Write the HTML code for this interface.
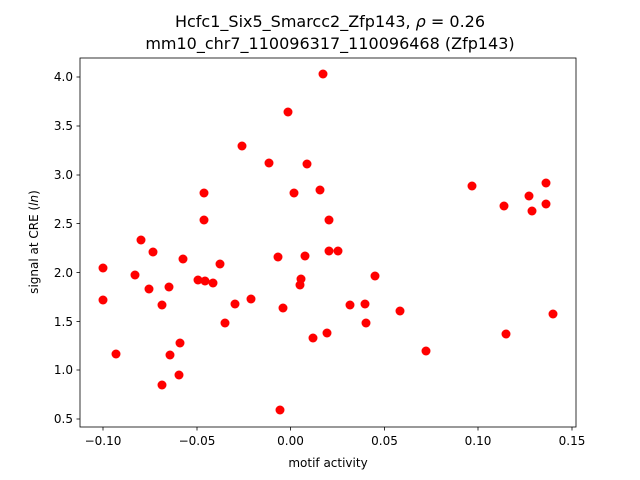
<!DOCTYPE html>
<html><head><style>body{margin:0;background:#fff}svg{display:block;font-family:"DejaVu Sans","Liberation Sans",sans-serif}</style></head>
<body>
<svg width="640" height="480" viewBox="0 0 640 480" xmlns="http://www.w3.org/2000/svg">
<rect width="640" height="480" fill="#fff"/>
<text x="330" y="27" font-size="16" text-anchor="middle">Hcfc1_Six5_Smarcc2_Zfp143, <tspan font-style="italic">ρ</tspan> = 0.26</text>
<text x="330" y="49" font-size="16" text-anchor="middle">mm10_chr7_110096317_110096468 (Zfp143)</text>
<g fill="#f00">
<circle cx="103" cy="268" r="4.5"/><circle cx="103" cy="300" r="4.5"/><circle cx="116" cy="354" r="4.5"/><circle cx="135" cy="275" r="4.5"/><circle cx="141" cy="240" r="4.5"/><circle cx="149" cy="289" r="4.5"/><circle cx="153" cy="252" r="4.5"/><circle cx="162" cy="305" r="4.5"/><circle cx="162" cy="385" r="4.5"/><circle cx="169" cy="287" r="4.5"/><circle cx="170" cy="355" r="4.5"/><circle cx="179" cy="375" r="4.5"/><circle cx="180" cy="343" r="4.5"/><circle cx="183" cy="259" r="4.5"/><circle cx="198" cy="280" r="4.5"/><circle cx="205" cy="281" r="4.5"/><circle cx="204" cy="193" r="4.5"/><circle cx="204" cy="220" r="4.5"/><circle cx="213" cy="283" r="4.5"/><circle cx="220" cy="264" r="4.5"/><circle cx="225" cy="323" r="4.5"/><circle cx="235" cy="304" r="4.5"/><circle cx="242" cy="146" r="4.5"/><circle cx="251" cy="299" r="4.5"/><circle cx="269" cy="163" r="4.5"/><circle cx="278" cy="257" r="4.5"/><circle cx="283" cy="308" r="4.5"/><circle cx="280" cy="410" r="4.5"/><circle cx="288" cy="112" r="4.5"/><circle cx="294" cy="193" r="4.5"/><circle cx="300" cy="285" r="4.5"/><circle cx="301" cy="279" r="4.5"/><circle cx="305" cy="256" r="4.5"/><circle cx="307" cy="164" r="4.5"/><circle cx="313" cy="338" r="4.5"/><circle cx="320" cy="190" r="4.5"/><circle cx="323" cy="74" r="4.5"/><circle cx="327" cy="333" r="4.5"/><circle cx="329" cy="220" r="4.5"/><circle cx="329" cy="251" r="4.5"/><circle cx="338" cy="251" r="4.5"/><circle cx="350" cy="305" r="4.5"/><circle cx="365" cy="304" r="4.5"/><circle cx="366" cy="323" r="4.5"/><circle cx="375" cy="276" r="4.5"/><circle cx="400" cy="311" r="4.5"/><circle cx="426" cy="351" r="4.5"/><circle cx="472" cy="186" r="4.5"/><circle cx="504" cy="206" r="4.5"/><circle cx="506" cy="334" r="4.5"/><circle cx="529" cy="196" r="4.5"/><circle cx="532" cy="211" r="4.5"/><circle cx="546" cy="183" r="4.5"/><circle cx="546" cy="204" r="4.5"/><circle cx="553" cy="314" r="4.5"/>
</g>
<rect x="80" y="58" width="496" height="369" fill="none" stroke="#000" stroke-width="0.8"/>
<g stroke="#000" stroke-width="0.8">
<line x1="103" y1="427" x2="103" y2="430.5"/><line x1="197" y1="427" x2="197" y2="430.5"/><line x1="290.5" y1="427" x2="290.5" y2="430.5"/><line x1="384.5" y1="427" x2="384.5" y2="430.5"/><line x1="478" y1="427" x2="478" y2="430.5"/><line x1="572" y1="427" x2="572" y2="430.5"/>
<line x1="76.5" y1="77" x2="80" y2="77"/><line x1="76.5" y1="126" x2="80" y2="126"/><line x1="76.5" y1="175" x2="80" y2="175"/><line x1="76.5" y1="223.5" x2="80" y2="223.5"/><line x1="76.5" y1="272.5" x2="80" y2="272.5"/><line x1="76.5" y1="321.5" x2="80" y2="321.5"/><line x1="76.5" y1="370" x2="80" y2="370"/><line x1="76.5" y1="419" x2="80" y2="419"/>
</g>
<g font-size="12" text-anchor="middle">
<text x="103" y="445">−0.10</text><text x="197" y="445">−0.05</text><text x="290.5" y="445">0.00</text><text x="384.5" y="445">0.05</text><text x="478" y="445">0.10</text><text x="572" y="445">0.15</text>
<text x="328" y="467">motif activity</text>
</g>
<g font-size="12" text-anchor="end">
<text x="73" y="81">4.0</text><text x="73" y="130">3.5</text><text x="73" y="179">3.0</text><text x="73" y="228">2.5</text><text x="73" y="277">2.0</text><text x="73" y="326">1.5</text><text x="73" y="374">1.0</text><text x="73" y="423">0.5</text>
</g>
<text transform="translate(38,242) rotate(-90)" font-size="12" text-anchor="middle">signal at CRE (<tspan font-style="italic">ln</tspan>)</text>
</svg>
</body></html>
